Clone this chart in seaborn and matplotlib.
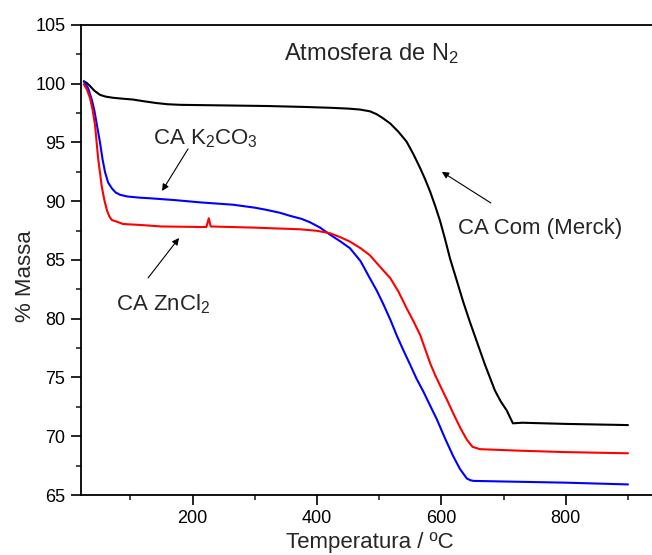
import matplotlib
matplotlib.use("Agg")
import matplotlib.pyplot as plt
from matplotlib.ticker import MultipleLocator
import seaborn as sns
import pandas as pd

# Thermogravimetric curves (temperature in ºC, remaining mass in %)
temp_merck = [25, 30, 35, 42, 51, 60, 72, 88, 104, 122, 142, 160, 180, 250, 319, 380,
              421, 450, 469, 485, 496, 505, 518, 531, 544, 555, 566, 574, 582, 590,
              598, 606, 614, 625, 635, 646, 657, 670, 686, 695, 705, 715, 730, 800, 900]
mass_merck = [100.2, 100.05, 99.8, 99.4, 99.05, 98.9, 98.8, 98.72, 98.65, 98.5, 98.35,
              98.25, 98.2, 98.15, 98.1, 98.02, 97.95, 97.88, 97.8, 97.65, 97.4, 97.1,
              96.6, 95.9, 95.07, 94.0, 92.8, 91.85, 90.8, 89.6, 88.3, 86.75, 85.1, 83.2,
              81.45, 79.7, 78.05, 76.1, 73.9, 73.0, 72.2, 71.1, 71.15, 71.05, 70.95]

temp_k2co3 = [25, 32, 38, 42, 46, 51, 55, 59, 64, 70, 76, 83, 95, 115, 131, 170, 212,
              265, 300, 319, 340, 357, 375, 389, 405, 421, 437, 453, 470, 485, 496,
              507, 518, 528, 539, 550, 560, 571, 582, 593, 606, 619, 630, 641, 647, 652,
              700, 800, 900]
mass_k2co3 = [100.2, 99.6, 98.6, 97.7, 96.5, 95.0, 93.6, 92.5, 91.6, 91.1, 90.75,
              90.55, 90.4, 90.3, 90.25, 90.1, 89.9, 89.7, 89.45, 89.26, 89.02, 88.75,
              88.5, 88.2, 87.75, 87.15, 86.6, 86.0, 84.9, 83.44, 82.4, 81.2, 79.9,
              78.6, 77.3, 76.06, 74.9, 73.8, 72.6, 71.4, 69.8, 68.3, 67.2, 66.4, 66.25,
              66.2, 66.15, 66.05, 65.9]

temp_zncl2 = [25, 30, 35, 39, 43, 48, 54, 58, 62, 66, 70, 78, 88, 115, 150, 222, 226,
              229, 300, 373, 400, 421, 437, 453, 470, 485, 500, 518, 531, 544, 555, 566,
              574, 582, 590, 598, 609, 619, 630, 641, 650, 662, 726, 800, 900]
mass_zncl2 = [99.95, 99.5, 98.76, 97.8, 96.5, 93.65, 91.2, 90.1, 89.26, 88.7, 88.4,
              88.26, 88.06, 87.98, 87.85, 87.8, 88.55, 87.85, 87.75, 87.61, 87.48, 87.27,
              86.95, 86.56, 86.0, 85.4, 84.5, 83.44, 82.3, 80.9, 79.8, 78.6, 77.4, 76.2,
              75.2, 74.3, 73.1, 71.95, 70.75, 69.7, 69.1, 68.9, 68.77, 68.65, 68.55]

series_names = ["CA Com (Merck)", "CA K2CO3", "CA ZnCl2"]
series_colors = ["#000000", "#0000ff", "#ff0000"]

frames = []
for name, t, m in zip(series_names,
                      [temp_merck, temp_k2co3, temp_zncl2],
                      [mass_merck, mass_k2co3, mass_zncl2]):
    frames.append(pd.DataFrame({"Temperatura": t, "Massa": m, "Amostra": name}))
df = pd.concat(frames, ignore_index=True)

sns.set_style("ticks")
plt.rcParams["font.family"] = ["Liberation Sans", "DejaVu Sans"]
plt.rcParams["mathtext.fontset"] = "custom"
plt.rcParams["mathtext.rm"] = "Liberation Sans"
plt.rcParams["mathtext.it"] = "Liberation Sans:italic"
plt.rcParams["mathtext.bf"] = "Liberation Sans:bold"

fig = plt.figure(figsize=(6.52, 5.55), dpi=100)
ax = fig.add_axes([0.1238, 0.1081, 0.887, 0.847])

sns.lineplot(data=df, x="Temperatura", y="Massa", hue="Amostra",
             palette=dict(zip(series_names, series_colors)),
             sort=False, estimator=None, linewidth=1.5, legend=False, ax=ax)

ax.set_xlim(20, 950)
ax.set_ylim(65, 105)
ax.xaxis.set_major_locator(MultipleLocator(200))
ax.xaxis.set_minor_locator(MultipleLocator(100))
ax.yaxis.set_major_locator(MultipleLocator(5))
ax.yaxis.set_minor_locator(MultipleLocator(2.5))
ax.set_xticks([200, 400, 600, 800])

for side in ["left", "bottom", "top", "right"]:
    ax.spines[side].set_visible(True)
    ax.spines[side].set_linewidth(1.3)
    ax.spines[side].set_color("black")

ax.tick_params(which="major", direction="out", length=7, width=1.2,
               labelsize=13, pad=4, colors="black", top=False, right=False)
ax.tick_params(which="minor", direction="out", length=3.6, width=1.2,
               top=False, right=False)

ax.set_xlabel("Temperatura / ºC", fontsize=16)
ax.set_ylabel("% Massa", fontsize=16)
ax.xaxis.set_label_coords(0.5003, -0.102)
ax.yaxis.set_label_coords(-0.0963, 0.466)
ax.xaxis.label.set_va("center")
ax.yaxis.label.set_va("center")

ax.text(488, 102.0, r"Atmosfera de N$\mathregular{_2}$", fontsize=17,
        ha="center", va="baseline")

arrow_kw = dict(arrowstyle="-|>", lw=0.8, color="black",
                mutation_scale=10, shrinkA=0, shrinkB=0)

ax.text(221, 94.8, r"CA K$\mathregular{_2}$CO$\mathregular{_3}$", fontsize=16,
        ha="center", va="baseline")
ax.annotate("", xy=(150.8, 90.87), xytext=(192.6, 94.45), arrowprops=arrow_kw)

ax.text(152, 80.7, r"CA ZnCl$\mathregular{_2}$", fontsize=16,
        ha="center", va="baseline")
ax.annotate("", xy=(178.1, 86.87), xytext=(128.3, 83.47), arrowprops=arrow_kw)

ax.text(759, 87.2, "CA Com (Merck)", fontsize=16, ha="center", va="baseline")
ax.annotate("", xy=(600.7, 92.5), xytext=(679.5, 89.85), arrowprops=arrow_kw)

fig.savefig("out.png", dpi=100)
